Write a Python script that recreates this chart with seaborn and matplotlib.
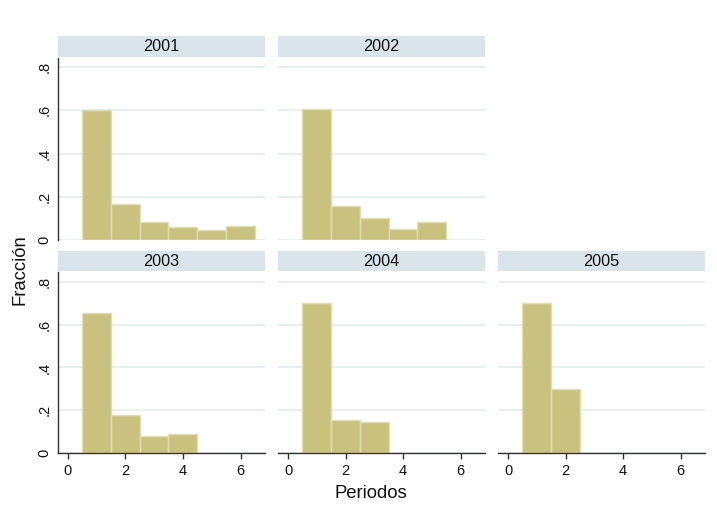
import numpy as np
import pandas as pd
import matplotlib
matplotlib.use("Agg")
import matplotlib.pyplot as plt
import seaborn as sns
from matplotlib.patches import Rectangle

sns.set_theme(style="white")
plt.rcParams['font.family'] = ['Liberation Sans', 'DejaVu Sans']

# ---- data ----
years = ["2001", "2002", "2003", "2004", "2005"]
periods_2001 = [1, 2, 3, 4, 5, 6]
frac_2001 = [0.604, 0.165, 0.083, 0.060, 0.045, 0.063]
periods_2002 = [1, 2, 3, 4, 5]
frac_2002 = [0.605, 0.158, 0.100, 0.052, 0.083]
periods_2003 = [1, 2, 3, 4]
frac_2003 = [0.653, 0.180, 0.081, 0.091]
periods_2004 = [1, 2, 3]
frac_2004 = [0.699, 0.157, 0.144]
periods_2005 = [1, 2]
frac_2005 = [0.700, 0.300]

x_ticks = [0, 2, 4, 6]
y_ticks = [0, 0.2, 0.4, 0.6, 0.8]
y_ticklabels = ["0", ".2", ".4", ".6", ".8"]

frames = []
for yr, p, f in zip(years,
                    [periods_2001, periods_2002, periods_2003, periods_2004, periods_2005],
                    [frac_2001, frac_2002, frac_2003, frac_2004, frac_2005]):
    frames.append(pd.DataFrame({"year": yr, "periodo": p, "fraccion": f}))
df = pd.concat(frames, ignore_index=True)

W, H = 717, 512
fig = plt.figure(figsize=(W / 100, H / 100), dpi=100)

col_x = [(57.5, 265), (278, 485), (498, 705)]
row_y = [(57.5, 240), (272, 453.3)]
layout = {"2001": (0, 0), "2002": (0, 1), "2003": (1, 0), "2004": (1, 1), "2005": (1, 2)}

bar_face = "#c9c27f"
bar_edge = "#e2deb0"
grid_c = "#e8f0f2"
strip_c = "#d9e5eb"
axis_c = "#333333"

for yr in years:
    r, c = layout[yr]
    x0, x1 = col_x[c]
    y0, y1 = row_y[r]
    ax = fig.add_axes([x0 / W, 1 - y1 / H, (x1 - x0) / W, (y1 - y0) / H])
    sub = df[df["year"] == yr]
    sns.histplot(data=sub, x="periodo", weights="fraccion", discrete=True,
                 shrink=1, stat="count", color=bar_face, edgecolor=bar_edge,
                 linewidth=1.0, alpha=1, ax=ax, zorder=2)
    ax.set_xlim(-0.35, 6.85)
    ax.set_ylim(0, 0.845)
    for yt in y_ticks:
        ax.axhline(yt, color=grid_c, lw=1.4, zorder=0)
    ax.set_xlabel("")
    ax.set_ylabel("")
    for s in ["top", "right"]:
        ax.spines[s].set_visible(False)
    if c == 0:
        ax.spines["left"].set_color(axis_c)
        ax.spines["left"].set_linewidth(1.0)
        ax.set_yticks(y_ticks)
        ax.set_yticklabels(y_ticklabels, rotation=90, va="center", fontsize=10.5,
                           color="#111111")
        ax.tick_params(axis="y", length=0, pad=4.5, left=True)
    else:
        ax.spines["left"].set_visible(False)
        ax.set_yticks([])
    if r == 1:
        ax.spines["bottom"].set_color(axis_c)
        ax.spines["bottom"].set_linewidth(1.0)
        ax.set_xticks(x_ticks)
        ax.set_xticklabels([str(t) for t in x_ticks], fontsize=10.5, color="#111111")
        ax.tick_params(axis="x", length=4, width=1, color=axis_c, pad=4, bottom=True)
    else:
        ax.spines["bottom"].set_visible(False)
        ax.set_xticks([])
    # strip
    sh = 20.5 / (y1 - y0)
    ax.add_patch(Rectangle((0, 1.003), 1, sh, transform=ax.transAxes,
                           facecolor=strip_c, edgecolor="none", clip_on=False))
    ax.text(0.5, 1.003 + sh / 2, yr, transform=ax.transAxes, ha="center",
            va="center", fontsize=11.7, color="#111111")

fig.text(20 / W, 1 - 270 / H, "Fracción", rotation=90, ha="center", va="center",
         fontsize=13.3, color="#111111")
fig.text(371 / W, 1 - 493 / H, "Periodos", ha="center", va="center",
         fontsize=13.3, color="#111111")

fig.savefig("out.png", dpi=100, facecolor="white")
